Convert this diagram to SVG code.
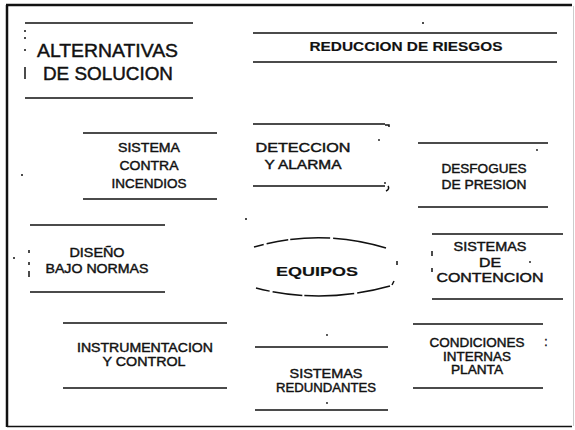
<svg xmlns="http://www.w3.org/2000/svg" width="575" height="430" viewBox="0 0 575 430">
<style>
.bg{fill:#fff}
.ln{stroke:#111;stroke-width:1.5;fill:none}
.frm{stroke:#111;stroke-width:2.5;fill:none}
.t{font-family:"Liberation Sans",Arial,Helvetica,sans-serif;font-size:12px;fill:#111;stroke:#111;stroke-width:0.4;text-anchor:middle}
.big{font-size:19px;text-anchor:start;stroke-width:0.45}
.b{font-weight:bold;stroke-width:0.15}
.dot{fill:#111}
</style>
<rect class="bg" x="0" y="0" width="575" height="430"/>
<g id="frame">
<path class="frm" d="M7,5 V427"/>
<path class="frm" d="M6,5 H572"/>
<path class="ln" d="M7,426.5 H572" stroke-width="2"/>
<path d="M573.5,6 V426" stroke="#ccc" stroke-width="1" fill="none"/>
</g>
<g id="connectors"></g>
<g id="alternativas">
<path class="ln" d="M25,23 H193 M25,98 H193"/>
<path class="ln" d="M25,30 V32 M25,37 V39 M25,49 V51 M25,67 V79"/>
<text class="t big" x="37" y="57" textLength="141" lengthAdjust="spacingAndGlyphs">ALTERNATIVAS</text>
<text class="t big" x="43" y="80" textLength="130" lengthAdjust="spacingAndGlyphs">DE SOLUCION</text>
</g>
<g id="reduccion">
<path class="ln" d="M253,33 H557 M253,62 H557"/>
<circle class="dot" cx="423" cy="23" r="1"/>
<text class="t b" x="406" y="51" font-size="12.5" textLength="193" lengthAdjust="spacingAndGlyphs">REDUCCION DE RIESGOS</text>
</g>
<g id="sistema-contra-incendios">
<path class="ln" d="M83,133 H217 M83,199 H217"/>
<text class="t" x="149" y="152" textLength="62" lengthAdjust="spacingAndGlyphs">SISTEMA</text>
<text class="t" x="149" y="170" textLength="59" lengthAdjust="spacingAndGlyphs">CONTRA</text>
<text class="t" x="149" y="188" textLength="75" lengthAdjust="spacingAndGlyphs">INCENDIOS</text>
</g>
<g id="deteccion">
<path class="ln" d="M253,124 H385 M253,186 H385"/>
<circle class="dot" cx="379" cy="140" r="0.9"/>
<circle class="dot" cx="385" cy="183" r="0.9"/>
<text class="t" x="303" y="152" textLength="95" lengthAdjust="spacingAndGlyphs">DETECCION</text>
<text class="t" x="303" y="169" textLength="77" lengthAdjust="spacingAndGlyphs">Y ALARMA</text>
</g>
<g id="desfogues">
<path class="ln" d="M418,143 H548 M418,207 H548"/>
<circle class="dot" cx="537" cy="150" r="0.9"/>
<path class="ln" d="M385,125 H389 V127 M388,186 Q390,189 386,191" stroke-width="1"/>
<text class="t" x="484" y="173" textLength="85" lengthAdjust="spacingAndGlyphs">DESFOGUES</text>
<text class="t" x="484" y="189" textLength="85" lengthAdjust="spacingAndGlyphs">DE PRESION</text>
</g>
<g id="diseno">
<path class="ln" d="M30,225 H165 M30,292 H165"/>
<path class="ln" d="M29,250 V253 M29,262 V265 M29,271 V277" stroke-width="1"/>
<text class="t" x="97" y="257" textLength="55" lengthAdjust="spacingAndGlyphs">DISEÑO</text>
<text class="t" x="97" y="273" textLength="103" lengthAdjust="spacingAndGlyphs">BAJO NORMAS</text>
</g>
<g id="equipos">
<path class="ln" d="M254,247 Q320,228 386,248" stroke-width="1.2" stroke-dasharray="10 3 22 2 40 3 60"/>
<path class="ln" d="M256,288 Q322,305 390,286" stroke-width="1.2" stroke-dasharray="14 3 30 2 50 3 60"/>
<path class="ln" d="M397,261 V265 M394,281 L392,285" stroke-width="1.2"/>
<text class="t b" x="317" y="276" font-size="19" textLength="82" lengthAdjust="spacingAndGlyphs">EQUIPOS</text>
</g>
<g id="contencion">
<path class="ln" d="M432,234 H563 M432,299 H563"/>
<path class="ln" d="M432,251 V256 M432,268 V272" stroke-width="1"/>
<circle class="dot" cx="530" cy="262" r="0.9"/>
<text class="t" x="490" y="251" textLength="73" lengthAdjust="spacingAndGlyphs">SISTEMAS</text>
<text class="t" x="490" y="267" textLength="22" lengthAdjust="spacingAndGlyphs">DE</text>
<text class="t" x="490" y="282" textLength="107" lengthAdjust="spacingAndGlyphs">CONTENCION</text>
</g>
<g id="instrumentacion">
<path class="ln" d="M63,323 H227 M63,388 H227"/>
<text class="t" x="145" y="352" textLength="136" lengthAdjust="spacingAndGlyphs">INSTRUMENTACION</text>
<text class="t" x="144" y="366" textLength="83" lengthAdjust="spacingAndGlyphs">Y CONTROL</text>
</g>
<g id="redundantes">
<path class="ln" d="M255,347 H388 M255,410 H388"/>
<circle class="dot" cx="327" cy="335" r="0.9"/>
<circle class="dot" cx="327" cy="403" r="0.9"/>
<text class="t" x="326" y="378" textLength="73" lengthAdjust="spacingAndGlyphs">SISTEMAS</text>
<text class="t" x="326" y="392" textLength="100" lengthAdjust="spacingAndGlyphs">REDUNDANTES</text>
</g>
<g id="condiciones">
<path class="ln" d="M413,324 H543 M413,388 H543"/>
<text class="t" x="477" y="347" textLength="95" lengthAdjust="spacingAndGlyphs">CONDICIONES</text>
<text class="t" x="546" y="346">:</text>
<text class="t" x="477" y="361" textLength="68" lengthAdjust="spacingAndGlyphs">INTERNAS</text>
<text class="t" x="477" y="374" textLength="52" lengthAdjust="spacingAndGlyphs">PLANTA</text>
</g>
<g id="specks">
<circle class="dot" cx="22" cy="175" r="1"/>
<circle class="dot" cx="14" cy="258" r="1"/>
<circle class="dot" cx="246" cy="219" r="1"/>
</g>
</svg>
